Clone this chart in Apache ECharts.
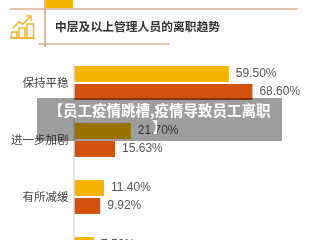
<!DOCTYPE html>
<html>
<head>
<meta charset="utf-8">
<script src="https://cdn.jsdelivr.net/npm/echarts@6/dist/echarts.min.js"></script>
<style>html,body{margin:0;padding:0;background:#fff;}#c{width:320px;height:240px;}</style>
</head>
<body>
<div id="c"></div>
<script>
var categories = ['保持平稳', '进一步加剧', '有所减缓', '不好说'];
var seriesA = [59.50, 21.70, 11.40, 7.50];
var seriesB = [68.60, 15.63, 9.92, 5.80];
var titleText = '中层及以上管理人员的离职趋势';
var captionText = '【员工疫情跳槽,疫情导致员工离职\n】';

var YEL = '#F8B500', RED = '#D4530C', LINE = '#DA8A55';
var chart = echarts.init(document.getElementById('c'), null, {renderer: 'canvas'});
function lbl() {
  return {show: true, position: 'right', distance: 7, color: '#555', fontSize: 12,
    fontFamily: 'Liberation Sans, Arial, sans-serif',
    formatter: function (p) { return p.value.toFixed(2) + '%'; }};
}
chart.setOption({
  backgroundColor: '#fff',
  animation: false,
  grid: {left: 74.5, top: 54.5, width: 207.5, height: 228, containLabel: false, outerBoundsMode: 'none'},
  xAxis: {type: 'value', min: 0, max: 80, show: false},
  yAxis: {type: 'category', data: categories, inverse: true,
    axisLine: {show: false}, axisTick: {show: false},
    axisLabel: {color: '#444', fontSize: 11.5, margin: 6, padding: [3, 0, 0, 0],
      fontFamily: 'Noto Sans CJK SC, sans-serif'}},
  series: [
    {type: 'bar', data: seriesA, barWidth: 16, barGap: '12%', itemStyle: {color: YEL}, label: lbl()},
    {type: 'bar', data: seriesB, barWidth: 16, barGap: '12%', itemStyle: {color: RED}, label: lbl()}
  ],
  graphic: [
    {type: 'rect', shape: {x: 46, y: 0, width: 27, height: 8}, style: {fill: YEL}, z: 10},
    {type: 'line', shape: {x1: 10, y1: 9, x2: 298, y2: 9}, style: {stroke: LINE, lineWidth: 1.2}, z: 10},
    {type: 'line', shape: {x1: 45, y1: 0, x2: 45, y2: 47}, style: {stroke: LINE, lineWidth: 1.2}, z: 10},
    {type: 'line', shape: {x1: 38, y1: 44, x2: 170, y2: 44}, style: {stroke: LINE, lineWidth: 1.2}, z: 10},
    {type: 'line', shape: {x1: 74, y1: 64, x2: 74, y2: 240}, style: {stroke: '#c8c8c8', lineWidth: 1}, z: 10},
    {type: 'group', z: 10, children: [
      {type: 'polyline', shape: {points: [[10, 38], [35, 38]]}, style: {stroke: '#EDB52A', lineWidth: 1.5, fill: null}},
      {type: 'rect', shape: {x: 11.5, y: 32, width: 5.5, height: 6}, style: {stroke: '#EDB52A', lineWidth: 1.5, fill: null}},
      {type: 'rect', shape: {x: 19, y: 28, width: 6, height: 10}, style: {stroke: '#EDB52A', lineWidth: 1.5, fill: null}},
      {type: 'rect', shape: {x: 27, y: 24, width: 6.5, height: 14}, style: {stroke: '#EDB52A', lineWidth: 1.5, fill: null}},
      {type: 'polyline', shape: {points: [[13, 28], [19, 22], [23, 24], [31, 16]]}, style: {stroke: '#EDB52A', lineWidth: 1.5, fill: null}},
      {type: 'polyline', shape: {points: [[26, 16], [31, 16], [31, 21]]}, style: {stroke: '#EDB52A', lineWidth: 1.5, fill: null}}
    ]},
    {type: 'text', left: 55, top: 21, z: 10,
      style: {text: titleText, fill: '#333', font: 'bold 11.8px "Noto Sans CJK SC", sans-serif'}},
    {type: 'rect', shape: {x: 37, y: 98, width: 245, height: 43}, style: {fill: 'rgba(0,0,0,0.38)'}, z: 100},
    {type: 'text', x: 159.5, y: 102, z: 101,
      style: {text: captionText, fill: '#fff', align: 'center', verticalAlign: 'top', lineHeight: 17,
        font: 'bold 14.5px "Noto Sans CJK SC", sans-serif'}}
  ]
});
</script>
</body>
</html>
